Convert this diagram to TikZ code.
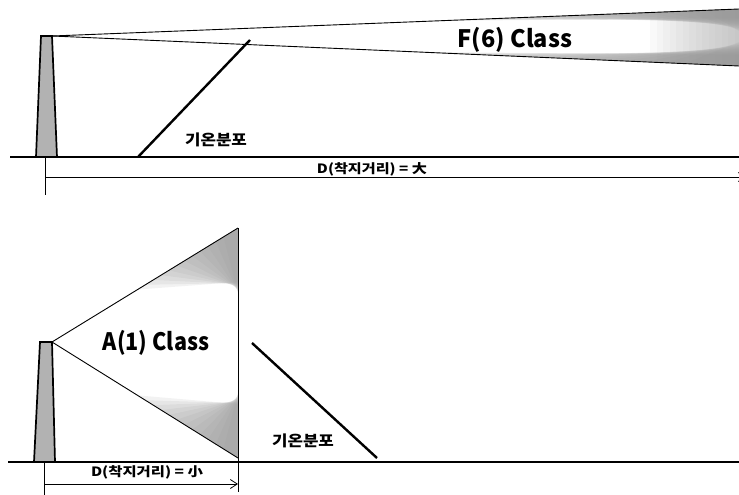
\documentclass[tikz,border=0pt]{standalone}
\usepackage{fontspec}
\newfontfamily\kor{Noto Sans CJK KR}
\newfontfamily\korblack{Noto Sans CJK KR Black}
\usetikzlibrary{arrows.meta,calc}

\tikzset{
  ground/.style={line width=1.8pt},
  plume/.style={line width=0.9pt},
  templine/.style={line width=2.4pt},
  stack/.style={line width=1.7pt,fill=gray!60,line join=miter},
  dimline/.style={line width=0.8pt},
  band/.style={fill=gray!85,opacity=0.12},
  lbl/.style={font=\kor\bfseries\fontsize{15}{15}\selectfont,inner sep=0pt},
  dimlbl/.style={font=\kor\bfseries\fontsize{13.5}{13.5}\selectfont,inner sep=0pt},
  classlbl/.style={font=\korblack\fontsize{24}{24}\selectfont,inner sep=0pt},
}

\begin{document}
\begin{tikzpicture}[x=1pt,y=-1pt,>={Straight Barb[length=7pt,width=9pt]}]

  \clip (0,0) rectangle (739,495);

  \begin{scope}   % stabilni zvrstveni, dlouhy vlecek

    \coordinate (G1) at (10,157);
    \coordinate (H1) at (739,157);
    \draw[ground] (G1)--(H1);

    % komin
    \coordinate (K1a) at (36,157);
    \coordinate (K1b) at (41,36);
    \coordinate (K1c) at (52,36);
    \coordinate (K1d) at (57,157);
    \draw[stack] (K1a)--(K1b)--(K1c)--(K1d)--cycle;

    % vlecek
    \coordinate (P1u) at (739,9);
    \coordinate (P1l) at (739,66);
    \begin{scope}
      \clip (K1c)--(P1u)--(P1l)--cycle;
      \foreach \i in {0,...,13}
      {
        \fill[band] ($(K1c)!{0.56+0.03*\i}!(P1u)$) -- (P1u) -- ++(0,{9+\i}) -- cycle;
        \fill[band] ($(K1c)!{0.53+0.03*\i}!(P1l)$) -- (P1l) -- ++(0,{-11-\i}) -- cycle;
        \fill[band,opacity=0.05] ({650+6.5*\i},0) rectangle (739,70);
      }
    \end{scope}
    \draw[plume] (K1c)--(P1u);
    \draw[plume] (K1c)--(P1l);
    \node[classlbl] (F6) at (515,40) {\scalebox{0.98}[1]{F(6) Class}};

    % teplotni profil
    \coordinate (T1a) at (138,157);
    \coordinate (T1b) at (250,40);
    \draw[templine] (T1a)--(T1b);
    \node[lbl] (tep1) at (216,140) {\scalebox{1.12}[1]{기온분포}};

    % vzdalenost
    \coordinate (D1a) at (45,157);
    \coordinate (D1b) at (45,195);
    \coordinate (D1c) at (45,177);
    \coordinate (D1d) at (746,177);
    \draw[dimline] (D1a)--(D1b);
    \draw[dimline,->] (D1c)--(D1d);
    \node[dimlbl] (dist1) at (372,169) {\scalebox{1.12}[0.95]{D(착지거리) = 大}};

  \end{scope}

  \begin{scope}   % labilni zvrstveni, kratky vlecek

    \coordinate (G2) at (8,462);
    \coordinate (H2) at (739,462);
    \draw[ground] (G2)--(H2);

    % komin
    \coordinate (K2a) at (34,462);
    \coordinate (K2b) at (40,342);
    \coordinate (K2c) at (52,342);
    \coordinate (K2d) at (55,462);
    \draw[stack] (K2a)--(K2b)--(K2c)--(K2d)--cycle;

    % vlecek
    \coordinate (P2u) at (238,228);
    \coordinate (P2l) at (238,458);
    \begin{scope}
      \clip (K2c)--(P2u)--(P2l)--cycle;
      \foreach \i in {0,...,11}
      {
        \fill[band] ($(K2c)!{0.46+0.042*\i}!(P2u)$) -- (P2u) -- ++(0,{54+\i}) -- cycle;
        \fill[band] ($(K2c)!{0.46+0.042*\i}!(P2l)$) -- (P2l) -- ++(0,{-54-\i}) -- cycle;
      }
    \end{scope}
    \draw[plume] (K2c)--(P2u);
    \draw[plume] (K2c)--(P2l);
    \coordinate (P2d) at (238,492);
    \draw[dimline] (P2u)--(P2d);
    \node[classlbl] (A1) at (156,343) {\scalebox{0.9}[1]{A(1) Class}};

    % teplotni profil
    \coordinate (T2a) at (252,343);
    \coordinate (T2b) at (377,458);
    \draw[templine] (T2a)--(T2b);
    \node[lbl] (tep2) at (303,441) {\scalebox{1.12}[1]{기온분포}};

    % vzdalenost
    \coordinate (D2a) at (44,462);
    \coordinate (D2b) at (44,495);
    \coordinate (D2c) at (44,484);
    \coordinate (D2d) at (238,484);
    \draw[dimline] (D2a)--(D2b);
    \draw[dimline,->] (D2c)--(D2d);
    \node[dimlbl] (dist2) at (147,472) {\scalebox{1.14}[0.95]{D(착지거리) = 小}};

  \end{scope}

\end{tikzpicture}
\end{document}
